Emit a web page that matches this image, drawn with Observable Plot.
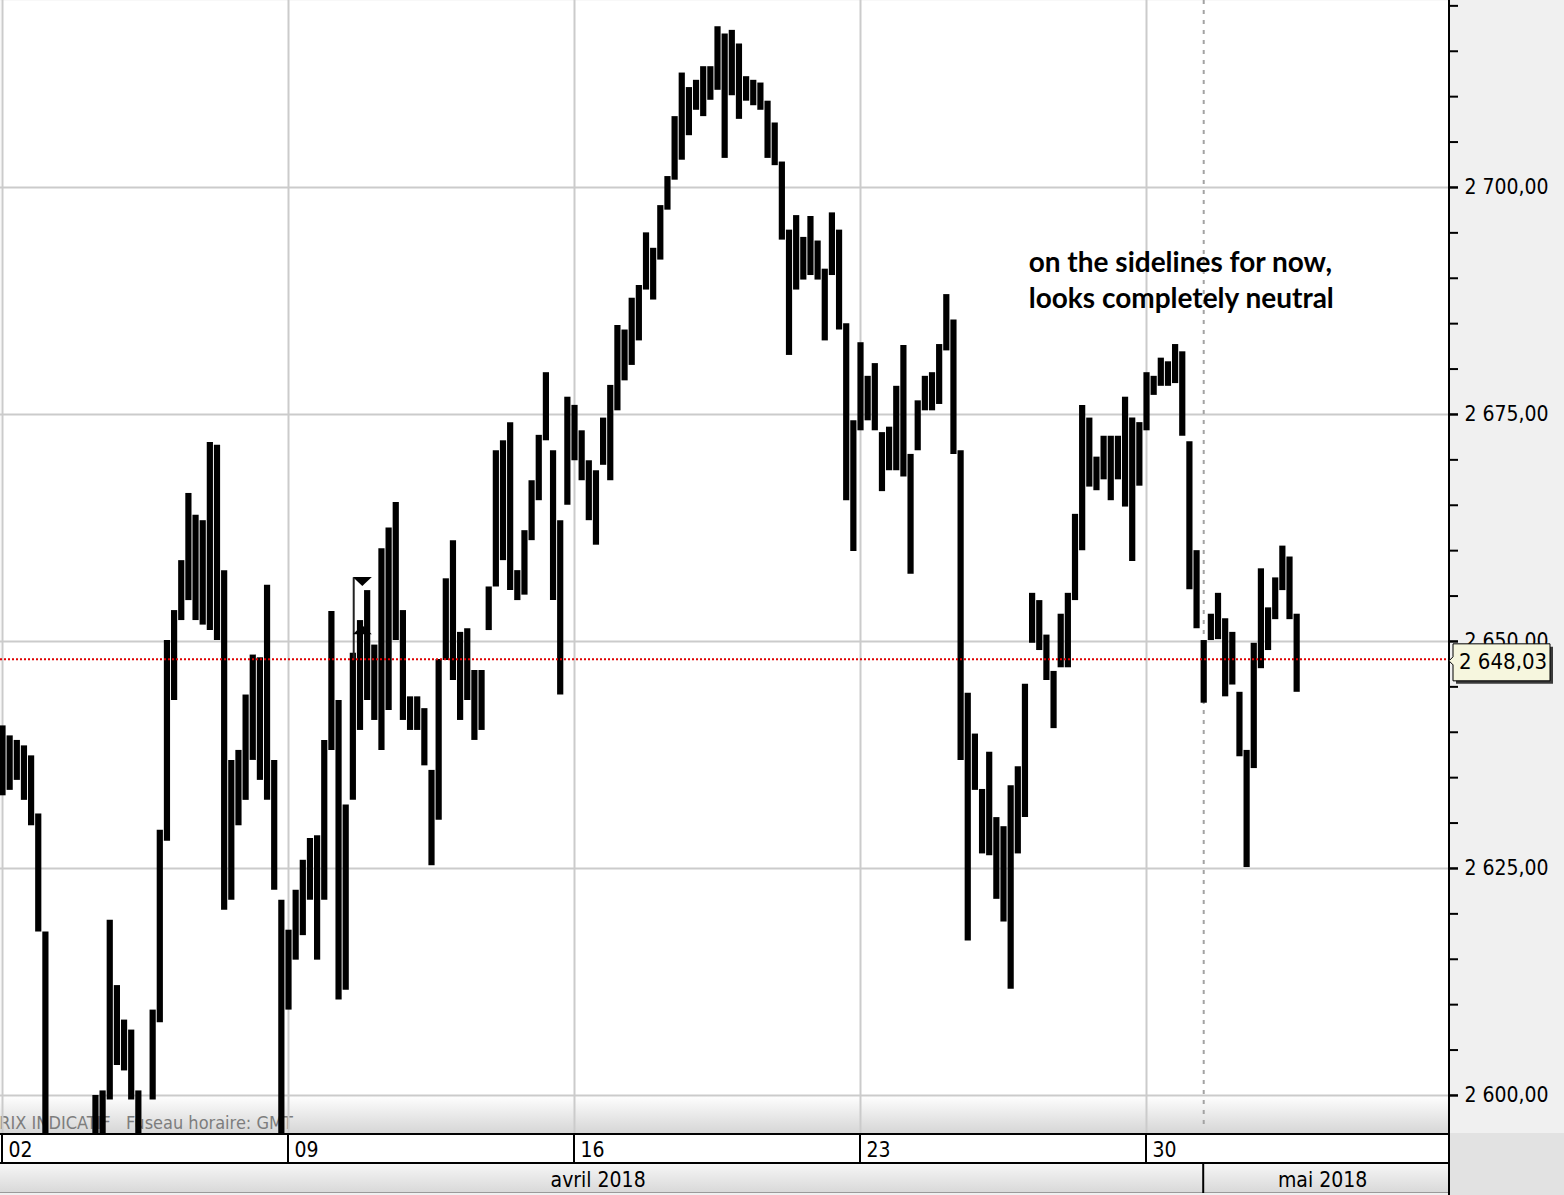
<!DOCTYPE html>
<html><head><meta charset="utf-8">
<script src="https://cdn.jsdelivr.net/npm/d3@7"></script>
<script src="https://cdn.jsdelivr.net/npm/@observablehq/plot@0.6"></script>
<style>
html,body{margin:0;padding:0;background:#f0f0f0;}
#chart svg{display:block;}
</style></head><body><div id="chart"></div>
<script>
// ---- data (high / low per bar, 8 bars per trading day, starting Mon 2 April 2018) ----
const highs = [
2640.7,2639.6,2639.1,2638.5,2637.4,2631.0,2618.0,2594.0,2592.0,2590.0,
2592.0,2593.0,2595.0,2600.0,2600.5,2619.3,2612.1,2608.3,2607.2,2600.5,
2595.0,2609.4,2629.2,2650.1,2653.4,2658.9,2666.3,2663.9,2663.3,2671.9,
2671.6,2657.8,2636.9,2638.0,2644.1,2648.5,2648.2,2656.2,2636.9,2621.5,
2618.2,2622.6,2625.9,2628.3,2628.6,2639.1,2653.3,2643.5,2632.0,2648.7,
2652.3,2655.6,2649.6,2660.2,2662.5,2665.3,2653.4,2643.9,2643.9,2642.6,
2635.8,2648.0,2656.9,2661.1,2651.0,2651.4,2646.8,2646.8,2656.0,2671.0,
2672.1,2674.1,2657.8,2662.2,2667.7,2672.7,2679.6,2671.0,2663.3,2676.9,
2676.0,2673.2,2669.9,2668.8,2674.6,2678.2,2684.8,2684.3,2687.8,2689.2,
2695.0,2693.3,2698.0,2701.2,2707.8,2712.6,2711.0,2711.8,2713.3,2713.3,
2717.7,2716.9,2717.3,2715.8,2712.2,2711.8,2711.5,2709.5,2707.1,2702.8,
2695.3,2696.9,2694.5,2696.8,2694.1,2691.0,2697.2,2695.3,2685.0,2674.3,
2682.9,2679.2,2680.6,2673.0,2673.6,2678.1,2682.6,2670.6,2676.5,2679.2,
2679.6,2682.7,2688.2,2685.4,2671.0,2644.3,2639.8,2633.7,2637.8,2630.6,
2629.6,2634.1,2636.2,2645.3,2655.3,2654.5,2650.7,2646.7,2653.0,2655.3,
2664.0,2676.0,2674.6,2670.3,2672.6,2672.6,2672.6,2676.9,2674.6,2674.1,
2679.6,2679.2,2681.2,2680.8,2682.7,2681.9,2672.0,2660.0,2650.1,2653.0,
2655.3,2652.5,2651.0,2644.4,2638.0,2649.8,2658.0,2653.7,2657.0,2660.5,
2659.3,2653.0
];
const lows = [
2633.0,2633.6,2634.7,2632.5,2629.7,2618.0,2590.0,2585.0,2584.0,2580.0,
2582.0,2584.0,2586.0,2590.0,2590.0,2599.5,2603.3,2602.7,2599.5,2590.0,
2587.0,2599.5,2608.0,2628.0,2643.5,2652.3,2654.5,2652.3,2651.8,2651.2,
2650.1,2620.4,2621.5,2629.7,2632.5,2636.9,2634.7,2632.5,2622.6,2590.0,
2609.4,2614.9,2617.6,2621.5,2614.9,2621.5,2638.0,2610.5,2611.6,2632.5,
2640.2,2643.5,2641.3,2638.0,2642.4,2650.1,2641.3,2640.2,2640.2,2636.3,
2625.3,2630.3,2647.9,2645.7,2641.3,2643.5,2639.1,2640.2,2651.2,2656.0,
2658.9,2655.6,2654.5,2655.1,2661.1,2665.5,2672.1,2654.5,2644.1,2665.0,
2669.9,2667.7,2663.3,2660.6,2669.4,2667.7,2675.4,2678.7,2680.4,2683.1,
2688.7,2687.6,2692.0,2697.5,2700.8,2703.0,2705.7,2708.5,2707.8,2709.6,
2710.7,2703.2,2710.1,2707.5,2709.5,2709.0,2708.5,2703.2,2702.4,2694.2,
2681.5,2688.7,2689.8,2690.3,2689.8,2683.1,2690.3,2684.3,2665.5,2659.9,
2673.2,2674.3,2673.2,2666.5,2668.8,2668.8,2668.1,2657.4,2671.0,2675.4,
2675.4,2676.1,2682.0,2670.6,2636.9,2617.0,2633.6,2626.6,2626.4,2621.6,
2619.1,2611.7,2626.6,2630.6,2649.8,2649.0,2645.7,2640.4,2647.1,2647.1,
2654.5,2660.0,2667.0,2666.6,2667.8,2665.5,2667.8,2664.8,2658.8,2667.1,
2673.2,2677.1,2678.1,2678.1,2678.4,2672.6,2655.7,2651.4,2643.2,2650.1,
2650.2,2643.9,2645.2,2637.3,2625.1,2636.0,2647.0,2649.0,2652.4,2655.6,
2652.4,2644.4
];
const barsPerDay = 8;
const lastPrice = 2648.03;
const weekStarts = [0, 5, 10, 15, 20];           // trading-day index of Mondays
const weekLabels = ["02", "09", "16", "23", "30"];
const monthBoundary = 21;                        // 1 May 2018
const monthLabels = ["avril 2018", "mai 2018"];
const yMajor = [2600, 2625, 2650, 2675, 2700];
const xDomain = [-0.035, 25.297];
const yDomain = [2595.81, 2720.59];
const markerLineT = 6.14, markerLineLow = 2647.9, markerLineHigh = 2657.0;
const markerTriT = 6.29, markerTopPrice = 2656.6, markerBottomPrice = 2651.3;
const noteText = "on the sidelines for now,\nlooks completely neutral";
const noteT = 17.94, notePrice = 2689.97;
const footText = "PRIX INDICATIF\u00a0\u00a0\u00a0Fuseau horaire: GMT";

const bars = highs.map((h, i) => ({t: i / barsPerDay, high: h, low: lows[i]}));
const fr = d3.formatLocale({decimal: ",", thousands: " ", grouping: [3], currency: ["", ""]}).format(",.2f");
const FONT = '"DejaVu Sans Condensed", "DejaVu Sans", sans-serif';

const triDown = {draw(ctx) { ctx.moveTo(-9.5, -4.5); ctx.lineTo(9.5, -4.5); ctx.lineTo(0, 4.5); ctx.closePath(); }};
const triUp = {draw(ctx) { ctx.moveTo(-9.5, 4.5); ctx.lineTo(9.5, 4.5); ctx.lineTo(0, -4.5); ctx.closePath(); }};

const bottomBand = (index, scales, values, dim) => {
  const g = d3.create("svg:g");
  const defs = g.append("defs");
  const lg = defs.append("linearGradient").attr("id", "bandGrad").attr("x1", 0).attr("x2", 0).attr("y1", 0).attr("y2", 1);
  lg.append("stop").attr("offset", "0%").attr("stop-color", "#ffffff");
  lg.append("stop").attr("offset", "100%").attr("stop-color", "#d6d6d6");
  const lg2 = defs.append("linearGradient").attr("id", "rowGrad").attr("x1", 0).attr("x2", 0).attr("y1", 0).attr("y2", 1);
  lg2.append("stop").attr("offset", "0%").attr("stop-color", "#f7f7f7");
  lg2.append("stop").attr("offset", "100%").attr("stop-color", "#d9d9d9");
  const xr = dim.width - dim.marginRight, yb = dim.height - dim.marginBottom;
  g.append("rect").attr("x", 0).attr("y", yb - 38).attr("width", xr).attr("height", 38).attr("fill", "url(#bandGrad)");
  return g.node();
};

const xAxisChrome = (index, scales, values, dim) => {
  const g = d3.create("svg:g");
  const xr = dim.width - dim.marginRight, yb = dim.height - dim.marginBottom;
  g.append("rect").attr("x", 0).attr("y", yb).attr("width", xr).attr("height", 30).attr("fill", "#ffffff");
  g.append("rect").attr("x", 0).attr("y", yb + 30).attr("width", xr).attr("height", 29).attr("fill", "url(#rowGrad)");
  g.append("rect").attr("x", xr).attr("y", yb).attr("width", dim.marginRight).attr("height", dim.marginBottom).attr("fill", "#e2e2e2");
  const line = (x1, y1, x2, y2, c = "black", w = 2) => g.append("line").attr("x1", x1).attr("y1", y1).attr("x2", x2).attr("y2", y2).attr("stroke", c).attr("stroke-width", w);
  line(0, yb + 1, xr, yb + 1);
  line(0, yb + 30, xr, yb + 30);
  line(0, yb + 59.5, xr, yb + 59.5, "#9a9a9a", 1);
  weekStarts.forEach(d => { const x = scales.x(d); line(x, yb, x, yb + 30); });
  const xm = scales.x(monthBoundary);
  line(xm, yb + 30, xm, yb + 60);
  line(xr, 0, xr, dim.height);
  return g.node();
};

const priceLabel = (index, scales, values, dim) => {
  const g = d3.create("svg:g");
  const x0 = dim.width - dim.marginRight, y = scales.y(lastPrice);
  const top = y - 15, bot = y + 22, left = x0 + 4, right = x0 + 101, py = y + 2;
  const path = `M${left},${top}H${right}V${bot}H${left}V${py + 4}L${x0},${py}L${left},${py - 4}Z`;
  g.append("path").attr("d", path).attr("transform", "translate(3,3)").attr("fill", "#3a3a3a");
  g.append("path").attr("d", path).attr("fill", "#f6f6de").attr("stroke", "black").attr("stroke-width", 1);
  g.append("text").attr("x", x0 + 10).attr("y", y + 2).attr("dy", "0.35em").attr("text-anchor", "start")
    .attr("font-size", 22).attr("fill", "black").text(fr(lastPrice));
  return g.node();
};

const chart = Plot.plot({
  width: 1564, height: 1195,
  marginLeft: 0, marginRight: 115, marginTop: 0, marginBottom: 62,
  x: {domain: xDomain, axis: null, label: null},
  y: {domain: yDomain, axis: null, label: null},
  style: {background: "#f0f0f0", fontFamily: FONT, fontSize: "21px", color: "black", overflow: "visible"},
  marks: [
    Plot.frame({fill: "white", stroke: null}),
    bottomBand,
    Plot.text([footText], {frameAnchor: "bottom-left", text: d => d, dx: -11, dy: -10, textAnchor: "start", lineAnchor: "middle", fill: "#7d7d7d", fontSize: 18}),
    Plot.gridY(yMajor, {stroke: "#cbcbcb", strokeOpacity: 1, strokeWidth: 2}),
    Plot.gridX(weekStarts, {stroke: "#cbcbcb", strokeOpacity: 1, strokeWidth: 2}),
    Plot.ruleX([monthBoundary], {stroke: "#a3a3a3", strokeWidth: 2, strokeDasharray: "4,6", insetBottom: 6}),
    Plot.ruleX(bars, {x: "t", y1: "low", y2: "high", stroke: "black", strokeWidth: 6.2, clip: true}),
    Plot.ruleX([markerLineT], {y1: markerLineLow, y2: markerLineHigh, stroke: "#222", strokeWidth: 2}),
    Plot.dot([markerTopPrice], {x: markerTriT, y: d => d, symbol: triDown, fill: "black", stroke: null}),
    Plot.dot([markerBottomPrice], {x: markerTriT, y: d => d, symbol: triUp, fill: "black", stroke: null}),
    Plot.ruleY([lastPrice], {stroke: "#e00000", strokeWidth: 2, strokeDasharray: "2,2"}),
    Plot.text([noteText], {x: noteT, y: notePrice, text: d => d, textAnchor: "start", lineAnchor: "middle", lineHeight: 1.29, fontFamily: "Lato, 'Open Sans', sans-serif", fontWeight: 700, fontSize: 28, fill: "black"}),
    xAxisChrome,
    Plot.text(weekStarts, {x: d => d, text: (d, i) => weekLabels[i], frameAnchor: "bottom", dy: 17, dx: 6, textAnchor: "start", lineAnchor: "middle", fontSize: 21, fill: "black"}),
    Plot.text([0, 1], {x: i => i === 0 ? (xDomain[0] + monthBoundary) / 2 : (monthBoundary + xDomain[1]) / 2, text: i => monthLabels[i], frameAnchor: "bottom", dy: 47, dx: -4, textAnchor: "middle", lineAnchor: "middle", fontSize: 21, fill: "black"}),
    Plot.axisY(d3.range(2600, 2721, 5), {anchor: "right", tickSize: 8, tickFormat: () => "", stroke: "black", strokeWidth: 2, label: null}),
    Plot.axisY(yMajor, {anchor: "right", tickSize: 8, tickPadding: 7, tickFormat: fr, stroke: "black", strokeWidth: 2, fill: "black", fontSize: 21, label: null}),
    priceLabel
  ]
});
document.getElementById("chart").appendChild(chart);
</script></body></html>
